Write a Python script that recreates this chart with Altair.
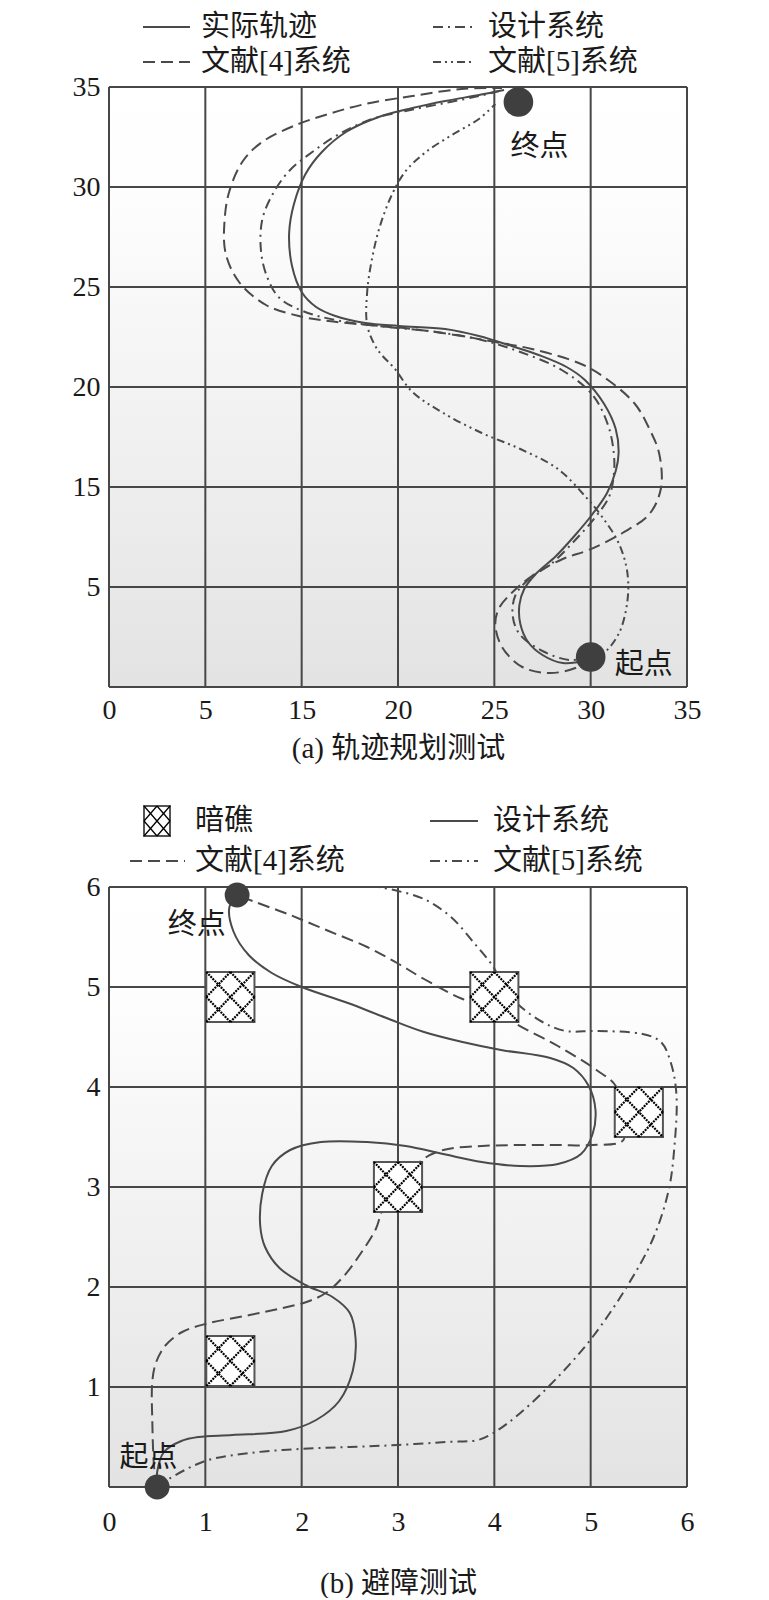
import altair as alt
import pandas as pd

# ---------------- data: (a) 轨迹规划测试 (grid-cell units, labels below) ----------------
A_X_LABELS = ["0", "5", "15", "20", "25", "30", "35"]
A_Y_LABELS = ["", "5", "15", "20", "25", "30", "35"]

a_real_x = [5.0, 4.95, 4.71, 4.50, 4.35, 4.27, 4.26, 4.31, 4.43, 4.64, 4.84, 5.02, 5.17, 5.26, 5.29,
            5.26, 5.14, 4.94, 4.75, 4.46, 4.18, 3.84, 3.49, 3.01, 2.66, 2.35, 2.15, 2.0, 1.90, 1.87,
            1.92, 2.04, 2.21, 2.46, 2.80, 3.15, 3.49, 3.84, 4.10]
a_real_y = [0.30, 0.27, 0.24, 0.32, 0.45, 0.63, 0.82, 0.98, 1.13, 1.31, 1.52, 1.73, 1.94, 2.16, 2.34,
            2.58, 2.83, 3.07, 3.20, 3.32, 3.41, 3.51, 3.58, 3.61, 3.64, 3.71, 3.80, 3.95, 4.21, 4.54,
            4.83, 5.13, 5.35, 5.55, 5.70, 5.79, 5.86, 5.92, 5.97]

a_design_x = [5.0, 4.78, 4.50, 4.26, 4.19, 4.22, 4.36, 4.60, 4.84, 5.05, 5.19, 5.24, 5.24, 5.18, 5.02,
              4.70, 4.27, 3.87, 3.40, 2.90, 2.40, 2.01, 1.77, 1.65, 1.58, 1.59, 1.70, 1.87, 2.11, 2.39,
              2.73, 3.08, 3.49, 3.84, 4.05]
a_design_y = [0.30, 0.27, 0.36, 0.53, 0.72, 0.92, 1.08, 1.24, 1.47, 1.70, 1.90, 2.12, 2.34, 2.62, 2.92,
              3.17, 3.35, 3.47, 3.55, 3.60, 3.66, 3.76, 3.89, 4.08, 4.34, 4.67, 4.93, 5.16, 5.35, 5.53,
              5.68, 5.76, 5.84, 5.91, 5.96]

a_ref4_x = [5.0, 4.84, 4.57, 4.29, 4.08, 4.01, 4.05, 4.19, 4.39, 4.71, 4.98, 5.33, 5.61, 5.73, 5.71,
            5.61, 5.46, 5.18, 4.90, 4.39, 4.01, 3.66, 3.15, 2.80, 2.28, 1.97, 1.63, 1.35, 1.21, 1.20,
            1.25, 1.39, 1.59, 1.94, 2.28, 2.66, 3.15, 3.66, 4.08]
a_ref4_y = [0.30, 0.19, 0.14, 0.20, 0.40, 0.63, 0.79, 0.95, 1.11, 1.28, 1.37, 1.54, 1.73, 1.99, 2.34,
            2.58, 2.83, 3.07, 3.23, 3.38, 3.45, 3.51, 3.58, 3.61, 3.66, 3.71, 3.82, 4.05, 4.34, 4.67,
            4.96, 5.26, 5.45, 5.62, 5.73, 5.83, 5.91, 5.98, 5.99]

a_ref5_x = [5.0, 5.12, 5.29, 5.38, 5.38, 5.29, 5.12, 4.95, 4.66, 4.27, 3.87, 3.47, 3.15, 2.96, 2.84,
            2.77, 2.68, 2.68, 2.73, 2.81, 2.94, 3.08, 3.29, 3.56, 3.84, 4.01]
a_ref5_y = [0.30, 0.33, 0.53, 0.85, 1.15, 1.44, 1.70, 1.90, 2.18, 2.38, 2.54, 2.74, 2.95, 3.19, 3.31,
            3.40, 3.62, 3.95, 4.28, 4.60, 4.93, 5.16, 5.35, 5.52, 5.68, 5.83]

a_pts_x = [5.0, 4.25]
a_pts_y = [0.30, 5.85]
a_pts_label = ["起点", "终点"]
a_lab_x = [5.55, 4.47]
a_lab_y = [0.22, 5.40]

# ---------------- data: (b) 避障测试 ----------------
B_X_LABELS = ["0", "1", "2", "3", "4", "5", "6"]
B_Y_LABELS = ["", "1", "2", "3", "4", "5", "6"]

b_design_x = [0.5, 0.50, 0.57, 0.75, 0.93, 1.28, 1.84, 2.15, 2.39, 2.53, 2.56, 2.50, 2.32, 2.04, 1.77,
              1.62, 1.57, 1.59, 1.69, 1.88, 2.20, 2.68, 3.08, 3.47, 3.87, 4.27, 4.66, 4.90, 5.02, 5.05,
              4.98, 4.82, 4.58, 4.07, 3.67, 3.27, 2.88, 2.48, 2.0, 1.69, 1.45, 1.29, 1.25, 1.33]
b_design_y = [0.0, 0.15, 0.35, 0.46, 0.50, 0.52, 0.56, 0.67, 0.86, 1.16, 1.48, 1.74, 1.90, 2.02, 2.19,
              2.40, 2.61, 2.93, 3.21, 3.37, 3.45, 3.45, 3.41, 3.33, 3.25, 3.21, 3.23, 3.33, 3.53, 3.77,
              4.01, 4.19, 4.29, 4.37, 4.45, 4.55, 4.69, 4.84, 5.0, 5.14, 5.32, 5.56, 5.80, 5.92]

b_ref4_x = [0.5, 0.47, 0.45, 0.45, 0.49, 0.59, 0.76, 1.0, 1.46, 1.80, 2.05, 2.25, 2.43, 2.63, 2.77,
            2.84, 3.0, 3.25, 3.47, 3.87, 4.27, 4.66, 5.02, 5.34, 5.30, 5.26, 5.06, 4.66, 4.23, 4.0,
            3.67, 3.27, 2.99, 2.68, 2.28, 1.88, 1.49, 1.33]
b_ref4_y = [0.0, 0.18, 0.64, 1.06, 1.25, 1.42, 1.55, 1.63, 1.72, 1.79, 1.85, 1.94, 2.10, 2.36, 2.58,
            2.77, 3.0, 3.27, 3.37, 3.41, 3.42, 3.42, 3.42, 3.47, 3.75, 4.01, 4.17, 4.41, 4.63, 4.78,
            4.88, 5.08, 5.24, 5.40, 5.56, 5.72, 5.86, 5.92]

b_ref5_x = [0.5, 0.62, 1.0, 1.46, 1.98, 2.50, 3.0, 3.5, 3.83, 3.99, 4.27, 4.66, 5.02, 5.38, 5.65,
            5.81, 5.87, 5.89, 5.83, 5.73, 5.54, 5.06, 4.74, 4.50, 4.23, 4.10, 3.99, 3.79, 3.55, 3.27,
            3.0, 2.80]
b_ref5_y = [0.0, 0.08, 0.26, 0.34, 0.38, 0.40, 0.42, 0.45, 0.47, 0.54, 0.74, 1.10, 1.50, 2.01, 2.49,
            2.97, 3.41, 3.93, 4.25, 4.45, 4.53, 4.56, 4.56, 4.65, 4.84, 5.0, 5.20, 5.44, 5.70, 5.88,
            5.96, 6.0]

b_pts_x = [0.5, 1.33]
b_pts_y = [0.0, 5.92]
b_lab_x = [0.41, 0.91]
b_lab_y = [0.29, 5.62]
b_pts_label = ["起点", "终点"]

obs_x = [1.26, 4.0, 5.5, 3.0, 1.26]
obs_y = [4.9, 4.9, 3.75, 3.0, 1.26]
OBS_HALF = 0.25

# ---------------- style ----------------
W, H = 578, 600
LINE = "#4a4a4a"
GRID = "#474747"
DOT = "#3f3f3f"
TXT = "#1a1a1a"
NUMFONT = "Liberation Serif"
CJKFONT = "Liberation Serif, Noto Sans CJK SC"
FS = 29      # CJK text
FSN = 28     # tick numbers

XS = alt.Scale(domain=[0, 6], nice=False, zero=False)
YS = alt.Scale(domain=[0, 6], nice=False, zero=False)

DASH = [12, 6]
DASHDOT = [10, 5, 2, 5]
DASHDOTDOT = [8, 4, 2, 4, 2, 4]

one = pd.DataFrame({"k": [0]})


def label_expr(labels):
    return "[" + ",".join("'" + s + "'" for s in labels) + "][datum.value]"


def make_axes(xlabels, ylabels, title, lpad, tpad):
    ax = alt.Axis(
        values=list(range(7)), labelExpr=label_expr(xlabels), grid=False, ticks=False,
        domain=False, labelFont=NUMFONT, labelFontSize=FSN, labelColor=TXT, labelPadding=lpad,
        labelFlush=False, labelOverlap=False, title=title, titleFont=CJKFONT,
        titleFontSize=FS, titleFontWeight="normal", titleColor=TXT, titlePadding=tpad)
    ay = alt.Axis(
        values=list(range(7)), labelExpr=label_expr(ylabels), grid=False, ticks=False,
        domain=False, labelFont=NUMFONT, labelFontSize=FSN, labelColor=TXT, labelPadding=9,
        labelFlush=False, labelOverlap=False, title=None)
    return ax, ay


def build(ax, ay):
    def X(f):
        return alt.X(f, scale=XS, axis=ax)

    def Y(f):
        return alt.Y(f, scale=YS, axis=ay)

    def background():
        bg = pd.DataFrame({"x": [0], "x2": [6], "y": [0], "y2": [6]})
        grad = alt.LinearGradient(
            gradient="linear",
            stops=[alt.GradientStop(color="#ffffff", offset=0),
                   alt.GradientStop(color="#fdfdfd", offset=0.2),
                   alt.GradientStop(color="#e3e3e3", offset=1)],
            x1=0, x2=0, y1=0, y2=1)
        rect = alt.Chart(bg).mark_rect(fill=grad).encode(
            x=X("x:Q"), x2="x2:Q", y=Y("y:Q"), y2="y2:Q")
        g = pd.DataFrame({"v": list(range(7))})
        vr = alt.Chart(g).mark_rule(color=GRID, strokeWidth=2).encode(x=X("v:Q"))
        hr = alt.Chart(g).mark_rule(color=GRID, strokeWidth=2).encode(y=Y("v:Q"))
        return [rect, vr, hr]

    def curve(xs, ys, dash=None):
        df = pd.DataFrame({"x": xs, "y": ys, "i": list(range(len(xs)))})
        kw = dict(interpolate="catmull-rom", color=LINE, strokeWidth=2)
        if dash:
            kw["strokeDash"] = dash
        return alt.Chart(df).mark_line(**kw).encode(x=X("x:Q"), y=Y("y:Q"), order="i:Q")

    def points(xs, ys, size):
        df = pd.DataFrame({"x": xs, "y": ys})
        return alt.Chart(df).mark_circle(size=size, color=DOT, opacity=1).encode(
            x=X("x:Q"), y=Y("y:Q"))

    def labels(xs, ys, texts):
        df = pd.DataFrame({"x": xs, "y": ys, "t": texts})
        return alt.Chart(df).mark_text(font=CJKFONT, fontSize=FS, color=TXT).encode(
            x=X("x:Q"), y=Y("y:Q"), text="t:N")

    def rects(df, **kw):
        return alt.Chart(df).mark_rect(**kw).encode(x=X("x:Q"), x2="x2:Q", y=Y("y:Q"), y2="y2:Q")

    def segs(df, **kw):
        return alt.Chart(df).mark_rule(**kw).encode(x=X("x:Q"), x2="x2:Q", y=Y("y:Q"), y2="y2:Q")

    return background, curve, points, labels, rects, segs


def leg_line(x0, x1, y, dash=None):
    kw = dict(color=LINE, strokeWidth=2)
    if dash:
        kw["strokeDash"] = dash
    return alt.Chart(one).mark_rule(**kw).encode(
        x=alt.value(x0), x2=alt.value(x1), y=alt.value(y))


def leg_text(x, y, t):
    return alt.Chart(one).mark_text(align="left", baseline="middle", font=CJKFONT,
                                    fontSize=FS, color=TXT).encode(
        x=alt.value(x), y=alt.value(y), text=alt.value(t))


# ---------------- chart (a) ----------------
axa, aya = make_axes(A_X_LABELS, A_Y_LABELS, "(a) 轨迹规划测试", 9, 10)
bgA, curveA, pointsA, labelsA, _, _ = build(axa, aya)
R1a, R2a = -60, -25
layers_a = bgA() + [
    curveA(a_ref5_x, a_ref5_y, DASHDOTDOT),
    curveA(a_design_x, a_design_y, DASHDOT),
    curveA(a_ref4_x, a_ref4_y, DASH),
    curveA(a_real_x, a_real_y),
    pointsA(a_pts_x, a_pts_y, 880),
    labelsA(a_lab_x, a_lab_y, a_pts_label),
    leg_line(34, 81, R1a), leg_text(92, R1a, "实际轨迹"),
    leg_line(324, 364, R1a, DASHDOT), leg_text(379, R1a, "设计系统"),
    leg_line(34, 81, R2a, DASH), leg_text(92, R2a, "文献[4]系统"),
    leg_line(324, 364, R2a, DASHDOTDOT), leg_text(379, R2a, "文献[5]系统"),
]
chart_a = alt.layer(*layers_a).properties(width=W, height=H)

# ---------------- chart (b) ----------------
axb, ayb = make_axes(B_X_LABELS, B_Y_LABELS, "(b) 避障测试", 21, 33)
bgB, curveB, pointsB, labelsB, rectsB, segsB = build(axb, ayb)

rows = []
for cx, cy in zip(obs_x, obs_y):
    x0, x1, y0, y1 = cx - OBS_HALF, cx + OBS_HALF, cy - OBS_HALF, cy + OBS_HALF
    rows.append({"x": x0, "y": y0, "x2": x1, "y2": y1})
    rows.append({"x": x0, "y": y1, "x2": x1, "y2": y0})
    rows.append({"x": x0, "y": cy, "x2": cx, "y2": y1})
    rows.append({"x": cx, "y": y1, "x2": x1, "y2": cy})
    rows.append({"x": x1, "y": cy, "x2": cx, "y2": y0})
    rows.append({"x": cx, "y": y0, "x2": x0, "y2": cy})
hatch_df = pd.DataFrame(rows)
box_df = pd.DataFrame({"x": [c - OBS_HALF for c in obs_x], "x2": [c + OBS_HALF for c in obs_x],
                       "y": [c - OBS_HALF for c in obs_y], "y2": [c + OBS_HALF for c in obs_y]})

R1b, R2b = -66, -26
lx0, lx1, ly0, ly1 = 35, 61, R1b - 15, R1b + 15
lxm, lym = (lx0 + lx1) / 2, (ly0 + ly1) / 2
leg_box = alt.Chart(one).mark_rect(fill="white", stroke="#555555", strokeWidth=2).encode(
    x=alt.value(lx0), x2=alt.value(lx1), y=alt.value(ly0), y2=alt.value(ly1))
leg_hatch = []
for (p, q, r, s) in [(lx0, ly0, lx1, ly1), (lx0, ly1, lx1, ly0), (lx0, lym, lxm, ly0),
                     (lxm, ly0, lx1, lym), (lx1, lym, lxm, ly1), (lxm, ly1, lx0, lym)]:
    leg_hatch.append(alt.Chart(one).mark_rule(color="black", strokeWidth=1.3).encode(
        x=alt.value(p), y=alt.value(q), x2=alt.value(r), y2=alt.value(s)))

layers_b = bgB() + [
    curveB(b_ref5_x, b_ref5_y, DASHDOT),
    curveB(b_ref4_x, b_ref4_y, DASH),
    curveB(b_design_x, b_design_y),
    rectsB(box_df, fill="white", stroke="#555555", strokeWidth=2),
    segsB(hatch_df, color="black", strokeWidth=2.2, strokeDash=[2, 1]),
    pointsB(b_pts_x, b_pts_y, 620),
    labelsB(b_lab_x, b_lab_y, b_pts_label),
    leg_box, *leg_hatch, leg_text(86, R1b, "暗礁"),
    leg_line(321, 369, R1b), leg_text(384, R1b, "设计系统"),
    leg_line(21, 76, R2b, DASH), leg_text(86, R2b, "文献[4]系统"),
    leg_line(321, 369, R2b, DASHDOT), leg_text(384, R2b, "文献[5]系统"),
]
chart_b = alt.layer(*layers_b).properties(width=W, height=H)

chart = alt.vconcat(chart_a, chart_b, spacing=42).configure(
    padding={"left": 64, "top": 5, "right": 10, "bottom": 0},
    background="white",
).configure_view(stroke=None)

chart.save("out.html", embed_options={"renderer": "svg", "actions": False})
